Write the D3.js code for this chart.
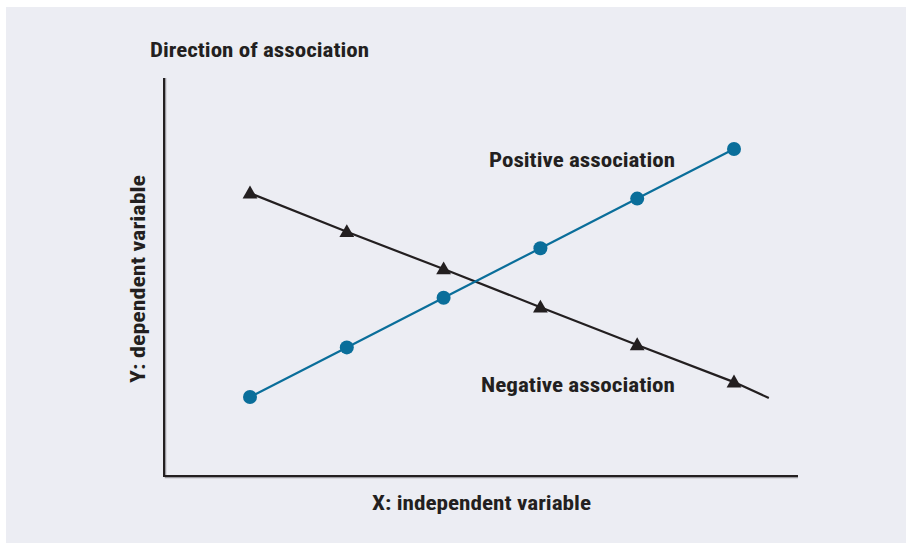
<!DOCTYPE html>
<html>
<head>
<meta charset="utf-8">
<script src="https://cdn.jsdelivr.net/npm/d3@7"></script>
<style>
  html, body { margin: 0; padding: 0; background: #ffffff; }
  text { font-family: "Liberation Sans Narrow", "Roboto Condensed", "Arial Narrow", Roboto, sans-serif; font-weight: bold; fill: #231f20; }
</style>
</head>
<body>
<div id="chart"></div>
<script>
// data (in abstract units)
var xValues = [1, 2, 3, 4, 5, 6];
var positiveValues = [1, 2, 3, 4, 5, 6];
var negativeValues = [5.11, 4.33, 3.58, 2.81, 2.05, 1.30];
// negative line runs a bit past the last triangle
var negativeTail = {x: 6.36, y: 0.98};

var width = 906, height = 543;

var svg = d3.select("#chart").append("svg")
    .attr("width", width)
    .attr("height", height);

svg.append("rect").attr("x", 6).attr("y", 7).attr("width", width - 6).attr("height", height - 7)
    .attr("fill", "#ecedf3");

var xScale = d3.scaleLinear().domain([1, 6]).range([250, 734]);
var yScale = d3.scaleLinear().domain([1, 6]).range([397, 149]);

// plot box corners
var boxLeft = 164, boxBottom = 476, boxTop = 78, boxRight = 798;

// axes with a faint shadow
svg.append("path")
    .attr("d", "M" + (boxLeft + 1.5) + "," + boxTop + "V" + (boxBottom + 1.5) + "H" + boxRight)
    .attr("fill", "none").attr("stroke", "#9a9aa0").attr("stroke-width", 1.5);
svg.append("path")
    .attr("d", "M" + boxLeft + "," + boxTop + "V" + boxBottom + "H" + boxRight)
    .attr("fill", "none").attr("stroke", "#231f20").attr("stroke-width", 2);

var pos = xValues.map(function(x, i) { return {x: x, y: positiveValues[i]}; });
var neg = xValues.map(function(x, i) { return {x: x, y: negativeValues[i]}; });

var line = d3.line().x(function(d) { return xScale(d.x); }).y(function(d) { return yScale(d.y); });

svg.append("path").datum(neg.concat([negativeTail]))
    .attr("d", line).attr("fill", "none").attr("stroke", "#231f20").attr("stroke-width", 2.2);
svg.append("path").datum(pos)
    .attr("d", line).attr("fill", "none").attr("stroke", "#0a6e9a").attr("stroke-width", 2.2);

svg.append("g").selectAll("path").data(neg).enter().append("path")
    .attr("d", d3.symbol().type(d3.symbolTriangle).size(95))
    .attr("transform", function(d) { return "translate(" + xScale(d.x) + "," + (yScale(d.y) + 1) + ")"; })
    .attr("fill", "#231f20");

svg.append("g").selectAll("circle").data(pos).enter().append("circle")
    .attr("cx", function(d) { return xScale(d.x); })
    .attr("cy", function(d) { return yScale(d.y); })
    .attr("r", 7)
    .attr("fill", "#0a6e9a");

// labels
svg.append("text").attr("x", 150).attr("y", 57).attr("font-size", 21)
    .attr("textLength", 219).attr("lengthAdjust", "spacingAndGlyphs")
    .text("Direction of association");
svg.append("text").attr("x", 489).attr("y", 167).attr("font-size", 21)
    .attr("textLength", 186).attr("lengthAdjust", "spacingAndGlyphs")
    .text("Positive association");
svg.append("text").attr("x", 481).attr("y", 392).attr("font-size", 21)
    .attr("textLength", 194).attr("lengthAdjust", "spacingAndGlyphs")
    .text("Negative association");
svg.append("text").attr("x", 372).attr("y", 510).attr("font-size", 21)
    .attr("textLength", 219).attr("lengthAdjust", "spacingAndGlyphs")
    .text("X: independent variable");
svg.append("text").attr("transform", "translate(145,383) rotate(-90)").attr("font-size", 21)
    .attr("textLength", 208).attr("lengthAdjust", "spacingAndGlyphs")
    .text("Y: dependent variable");
</script>
</body>
</html>
